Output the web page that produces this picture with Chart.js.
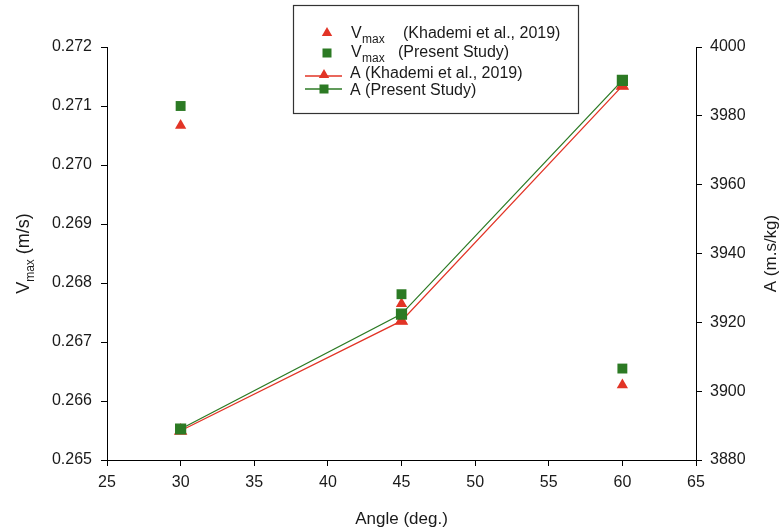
<!DOCTYPE html>
<html>
<head>
<meta charset="utf-8">
<script src="https://cdn.jsdelivr.net/npm/chart.js@4.4.1/dist/chart.umd.min.js"></script>
<style>
html,body{margin:0;padding:0;background:#fff;}
#wrap{width:783px;height:531px;}
</style>
</head>
<body>
<div id="wrap"><canvas id="c" width="783" height="531"></canvas></div>
<script>
// ---- data ----
const angles = [30, 45, 60];
const vmaxKhademi = [0.27067, 0.26765, 0.26627];
const vmaxPresent = [0.27100, 0.26781, 0.26655];
const aKhademi = [3888.5, 3920.4, 3988.7];
const aPresent = [3889.0, 3922.4, 3990.3];
const xTicks = [25, 30, 35, 40, 45, 50, 55, 60, 65];
const vmaxTicks = [0.265, 0.266, 0.267, 0.268, 0.269, 0.270, 0.271, 0.272];
const aTicks = [3880, 3900, 3920, 3940, 3960, 3980, 4000];

const RED = 'rgb(226,52,38)';
const GREEN = 'rgb(44,122,36)';
const FONT = '"Liberation Sans", Arial, sans-serif';
const TXT = '#1a1a1a';

const pts = (xs, ys) => xs.map((x, i) => ({x: x, y: ys[i]}));

const axisCommon = {
  border: {display: true, color: '#000', width: 1},
  grid: {display: true, drawOnChartArea: false, drawTicks: true, tickLength: 6, color: '#000', lineWidth: 1},
};

const decor = {
  id: 'decor',
  afterDraw(chart) {
    const ctx = chart.ctx;
    const ca = chart.chartArea;
    ctx.save();
    ctx.fillStyle = TXT;
    // x title
    ctx.font = '17px ' + FONT;
    ctx.textAlign = 'center';
    ctx.textBaseline = 'middle';
    ctx.fillText('Angle (deg.)', (ca.left + ca.right) / 2, 519);
    // left title with subscript
    ctx.save();
    ctx.translate(23, (ca.top + ca.bottom) / 2);
    ctx.rotate(-Math.PI / 2);
    ctx.textAlign = 'left';
    ctx.textBaseline = 'alphabetic';
    const big = '18px ' + FONT, small = '12px ' + FONT;
    ctx.font = big; const wV = ctx.measureText('V').width;
    ctx.font = small; const wM = ctx.measureText('max').width;
    ctx.font = big; const wR = ctx.measureText(' (m/s)').width;
    let x0 = -(wV + wM + wR) / 2;
    const base = 6;
    ctx.font = big; ctx.fillText('V', x0, base);
    ctx.font = small; ctx.fillText('max', x0 + wV, base + 5);
    ctx.font = big; ctx.fillText(' (m/s)', x0 + wV + wM, base);
    ctx.restore();
    // right title
    ctx.save();
    ctx.translate(771, (ca.top + ca.bottom) / 2);
    ctx.rotate(-Math.PI / 2);
    ctx.font = '17px ' + FONT;
    ctx.textAlign = 'center';
    ctx.textBaseline = 'middle';
    ctx.fillText('A (m.s/kg)', 0, 0);
    ctx.restore();

    // legend box
    ctx.fillStyle = '#fff';
    ctx.fillRect(293, 5, 285, 108);
    ctx.strokeStyle = '#333';
    ctx.lineWidth = 1.2;
    ctx.strokeRect(293.5, 5.5, 285, 108);
    const lf = '16px ' + FONT, ls = '12px ' + FONT;
    ctx.textAlign = 'left';
    ctx.textBaseline = 'alphabetic';
    ctx.fillStyle = TXT;
    const tri = (x, y, r, col) => {
      ctx.fillStyle = col; ctx.beginPath();
      ctx.moveTo(x, y - r); ctx.lineTo(x + r * 0.866, y + r * 0.5); ctx.lineTo(x - r * 0.866, y + r * 0.5);
      ctx.closePath(); ctx.fill();
    };
    const sq = (x, y, s, col) => { ctx.fillStyle = col; ctx.fillRect(x - s / 2, y - s / 2, s, s); };
    // row 1
    tri(327, 33, 6, RED);
    ctx.fillStyle = TXT;
    ctx.font = lf; ctx.fillText('V', 351, 38);
    ctx.font = ls; ctx.fillText('max', 362, 43);
    ctx.font = lf; ctx.fillText('(Khademi et al., 2019)', 403, 38);
    // row 2
    sq(327, 53, 9, GREEN);
    ctx.fillStyle = TXT;
    ctx.font = lf; ctx.fillText('V', 351, 57);
    ctx.font = ls; ctx.fillText('max', 362, 62);
    ctx.font = lf; ctx.fillText('(Present Study)', 398, 57);
    // row 3
    ctx.strokeStyle = RED; ctx.lineWidth = 1.5;
    ctx.beginPath(); ctx.moveTo(305, 76); ctx.lineTo(342, 76); ctx.stroke();
    tri(324, 75, 6, RED);
    ctx.fillStyle = TXT; ctx.font = lf; ctx.fillText('A (Khademi et al., 2019)', 350, 78);
    // row 4
    ctx.strokeStyle = GREEN; ctx.lineWidth = 1.5;
    ctx.beginPath(); ctx.moveTo(305, 89); ctx.lineTo(342, 89); ctx.stroke();
    sq(324, 89, 9, GREEN);
    ctx.fillStyle = TXT; ctx.font = lf; ctx.fillText('A (Present Study)', 350, 95);
    ctx.restore();
  }
};

new Chart(document.getElementById('c'), {
  type: 'scatter',
  data: {
    datasets: [
      {label: 'Vmax (Khademi et al., 2019)', data: pts(angles, vmaxKhademi), yAxisID: 'y',
       pointStyle: 'triangle', pointRadius: 6.5, backgroundColor: RED, borderColor: RED, borderWidth: 0, showLine: false, order: 2},
      {label: 'Vmax (Present Study)', data: pts(angles, vmaxPresent), yAxisID: 'y',
       pointStyle: 'rect', pointRadius: 7, backgroundColor: GREEN, borderColor: GREEN, borderWidth: 0, showLine: false, order: 1},
      {label: 'A (Khademi et al., 2019)', data: pts(angles, aKhademi), yAxisID: 'y2',
       pointStyle: 'triangle', pointRadius: 6.5, backgroundColor: RED, borderColor: RED, borderWidth: 1.3, showLine: true, order: 2},
      {label: 'A (Present Study)', data: pts(angles, aPresent), yAxisID: 'y2',
       pointStyle: 'rect', pointRadius: 7, backgroundColor: GREEN, borderColor: GREEN, borderWidth: 1.3, showLine: true, order: 1}
    ]
  },
  options: {
    responsive: false,
    animation: false,
    layout: {padding: {top: 47, left: 0, right: 0, bottom: 0}},
    plugins: {legend: {display: false}, tooltip: {enabled: false}},
    elements: {line: {tension: 0}, point: {hoverRadius: 7}},
    scales: {
      x: Object.assign({}, axisCommon, {
        type: 'linear', min: 25, max: 65,
        afterBuildTicks: s => { s.ticks = xTicks.map(v => ({value: v})); },
        afterFit: s => { s.height = 71; },
        ticks: {color: TXT, font: {family: FONT, size: 16}, padding: 7, maxRotation: 0, callback: v => String(v)}
      }),
      y: Object.assign({}, axisCommon, {
        type: 'linear', position: 'left', min: 0.265, max: 0.272,
        afterBuildTicks: s => { s.ticks = vmaxTicks.map(v => ({value: v})); },
        afterFit: s => { s.width = 107; },
        ticks: {color: TXT, font: {family: FONT, size: 16}, padding: 9, callback: v => Number(v).toFixed(3)}
      }),
      y2: Object.assign({}, axisCommon, {
        type: 'linear', position: 'right', min: 3880, max: 4000,
        afterBuildTicks: s => { s.ticks = aTicks.map(v => ({value: v})); },
        afterFit: s => { s.width = 87; },
        ticks: {color: TXT, font: {family: FONT, size: 16}, padding: 8, callback: v => String(v)}
      })
    }
  },
  plugins: [decor]
});
</script>
</body>
</html>
